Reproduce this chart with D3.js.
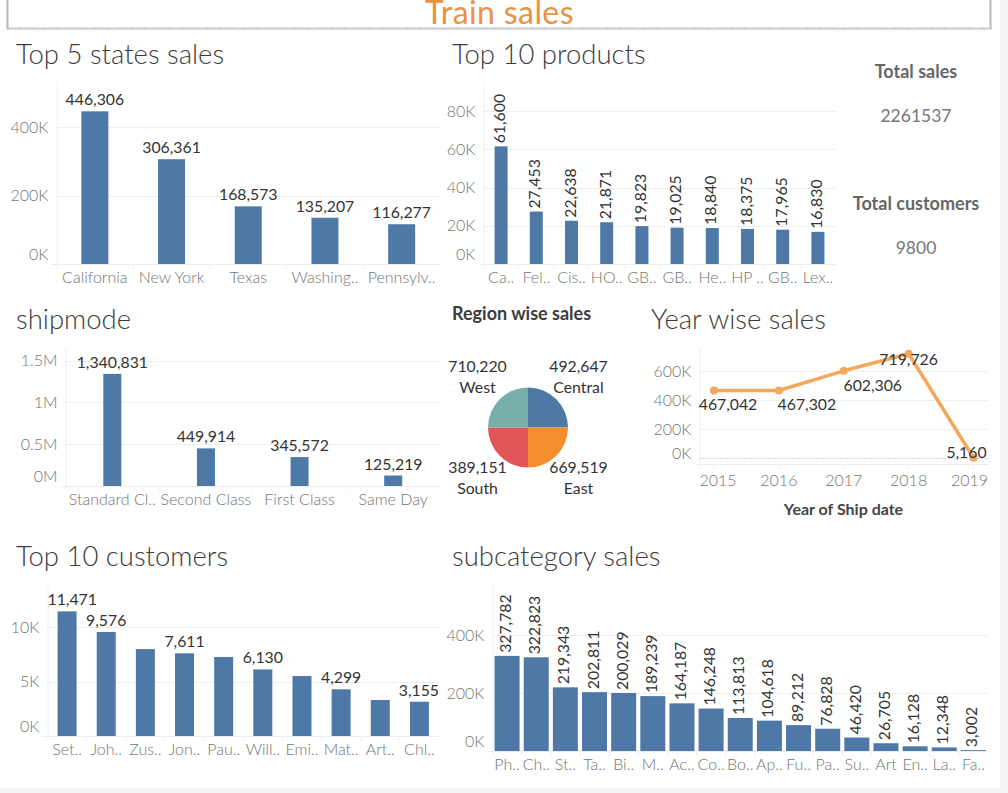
<!DOCTYPE html>
<html>
<head>
<meta charset="utf-8">
<script src="https://cdn.jsdelivr.net/npm/d3@7"></script>
<style>
  body { margin: 0; background: #f4f4f4; overflow: hidden; }
  svg { display: block; font-family: Lato, "Open Sans", sans-serif; }
  .grid line { stroke: #efefef; }
  .tick-label { fill: #747474; font-size: 16px; font-weight: 300; }
  .val { fill: #333; font-size: 15.8px; }
  .title { fill: #3c3c3c; font-size: 27.5px; font-weight: 300; }
</style>
</head>
<body>
<div id="chart"></div>
<script>
// chart values
let stateNames = ["California", "New York", "Texas", "Washing..", "Pennsylv.."];
let stateSales = [446306, 306361, 168573, 135207, 116277];
let stateTicks = [0, 200000, 400000];

let productNames = ["Ca..", "Fel..", "Cis..", "HO..", "GB..", "GB.. ", "He..", "HP ..", "GB..  ", "Lex.."];
let productSales = [61600, 27453, 22638, 21871, 19823, 19025, 18840, 18375, 17965, 16830];
let productTicks = [0, 20000, 40000, 60000, 80000];

let shipNames = ["Standard Cl..", "Second Class", "First Class", "Same Day"];
let shipSales = [1340831, 449914, 345572, 125219];
let shipTicks = [0, 500000, 1000000, 1500000];

let regionNames = ["Central", "East", "South", "West"];
let regionSales = [492647, 669519, 389151, 710220];
let regionSliceSizes = [1, 1, 1, 1];   // the slices are plain quarters in the picture

let years = [2015, 2016, 2017, 2018, 2019];
let yearSales = [467042, 467302, 602306, 719726, 5160];
let yearTicks = [0, 200000, 400000, 600000];

let customerNames = ["Set..", "Joh..", "Zus..", "Jon..", "Pau..", "Will..", "Emi..", "Mat..", "Art..", "Chl.."];
let customerSales = [11471, 9576, 8000, 7611, 7270, 6130, 5520, 4299, 3310, 3155];
let customerShown = [true, true, false, true, false, true, false, true, false, true];
let customerTicks = [0, 5000, 10000];

let subcatNames = ["Ph..", "Ch..", "St..", "Ta..", "Bi..", "M..", "Ac..", "Co..", "Bo..", "Ap..", "Fu..", "Pa..", "Su..", "Art", "En..", "La..", "Fa.."];
let subcatSales = [327782, 322823, 219343, 202811, 200029, 189239, 164187, 146248, 113813, 104618, 89212, 76828, 46420, 26705, 16128, 12348, 3002];
let subcatTicks = [0, 200000, 400000];

let totalSales = 2261537;
let totalCustomers = 9800;

const width = 1008, height = 793;
const barColor = "#4e79a7";
const commas = d3.format(",");
const kFmt = d => (d / 1000) + "K";
const mFmt = d => (d / 1000000) + "M";

let svg = d3.select("#chart").append("svg")
    .attr("width", width)
    .attr("height", height);

// white dashboard sheet, grey strips stay at the right and the bottom
svg.append("rect").attr("width", 1000).attr("height", 788).attr("fill", "#fff");

// banner box, its top is cut off by the window
svg.append("path")
    .attr("d", "M7.5,0V28.5H990.5V0")
    .attr("fill", "none")
    .attr("stroke", "#b4b8c2")
    .attr("stroke-width", 2);
svg.append("line")
    .attr("x1", 8).attr("x2", 990).attr("y1", 28).attr("y2", 28)
    .attr("stroke", "#e8e8ea").attr("stroke-width", 1)
    .attr("stroke-dasharray", "11 1.5");
svg.append("text")
    .attr("x", 499.5).attr("y", 24)
    .attr("text-anchor", "middle")
    .attr("fill", "#ea9244")
    .style("font-size", "32px")
    .style("letter-spacing", "0.4px")
    .text("Train sales");

function addTitle(label, x, y) {
    svg.append("text").attr("class", "title").attr("x", x).attr("y", y).text(label);
}

// keeps a centred text inside the pane, tableau nudges the labels the same way
function clampX(sel, left, right) {
    sel.each(function() {
        let w = this.getComputedTextLength();
        let x = +d3.select(this).attr("x");
        x = Math.max(left + w / 2, Math.min(right - w / 2, x));
        d3.select(this).attr("x", x);
    });
}

function drawFrame(g, c, y) {
    // gridlines
    g.append("g").attr("class", "grid")
        .selectAll("line").data(c.ticks.filter(t => t != 0)).join("line")
        .attr("x1", c.x0).attr("x2", c.x1)
        .attr("y1", d => Math.round(y(d)) + 0.5).attr("y2", d => Math.round(y(d)) + 0.5);

    // pane edge and base line
    g.append("line")
        .attr("x1", c.x0 + 0.5).attr("x2", c.x0 + 0.5)
        .attr("y1", c.top).attr("y2", c.bottom + 5)
        .attr("stroke", "#f0f0f0");
    g.append("line")
        .attr("x1", c.x0 - 5).attr("x2", c.x1)
        .attr("y1", c.bottom + 0.5).attr("y2", c.bottom + 0.5)
        .attr("stroke", "#ececec");

    // value axis
    let yAxis = g.append("g")
        .attr("transform", "translate(" + c.x0 + ",0)")
        .call(d3.axisLeft(y).tickValues(c.ticks).tickFormat(c.fmt).tickSize(0).tickPadding(8))
        .attr("font-family", null)
        .attr("font-size", null);
    yAxis.select(".domain").remove();
    // the zero label sits above the base line, not on it
    let zeroShift = c.zeroShift == null ? 10 : c.zeroShift;
    yAxis.selectAll("text").attr("class", "tick-label")
        .attr("dy", d => d == 0 ? (5 - zeroShift) + "px" : "0.32em");
}

function barChart(c) {
    let g = svg.append("g");

    let x = d3.scaleBand()
        .domain(c.names)
        .range([c.x0, c.x1]);

    let y = d3.scaleLinear()
        .domain(c.domain)
        .range([c.bottom, c.top]);

    drawFrame(g, c, y);

    // separators between the categories
    g.append("g").selectAll("line").data(c.names.slice(1)).join("line")
        .attr("x1", d => x(d)).attr("x2", d => x(d))
        .attr("y1", c.bottom).attr("y2", c.bottom + 5)
        .attr("stroke", "#f0f0f0");

    let xAxis = g.append("g")
        .attr("transform", "translate(0," + c.bottom + ")")
        .call(d3.axisBottom(x).tickSize(0).tickPadding(8))
        .attr("font-family", null)
        .attr("font-size", null);
    xAxis.select(".domain").remove();
    xAxis.selectAll("text").attr("class", "tick-label");

    let rows = c.names.map((n, i) => ({ name: n, value: c.values[i], shown: c.shown ? c.shown[i] : true }));

    g.selectAll("rect.bar").data(rows).join("rect")
        .attr("class", "bar")
        .attr("x", d => x(d.name) + (x.bandwidth() - c.barWidth) / 2)
        .attr("y", d => y(d.value))
        .attr("width", c.barWidth)
        .attr("height", d => c.bottom - y(d.value))
        .attr("fill", barColor);

    let labels = g.selectAll("text.val").data(rows.filter(d => d.shown)).join("text")
        .attr("class", "val")
        .text(d => commas(d.value));

    if (c.rotated) {
        labels
            .attr("text-anchor", "start")
            .attr("dominant-baseline", "middle")
            .attr("transform", d => "translate(" + (x(d.name) + x.bandwidth() / 2) + "," + (y(d.value) - 3) + ") rotate(-90)");
    } else {
        labels
            .attr("text-anchor", "middle")
            .attr("x", d => x(d.name) + x.bandwidth() / 2)
            .attr("y", d => y(d.value) - 6)
            .call(clampX, c.x0, c.x1);
    }
}

addTitle("Top 5 states sales", 16, 64);
barChart({ names: stateNames, values: stateSales, ticks: stateTicks, fmt: kFmt,
    domain: [0, 535000], x0: 56.5, x1: 440, top: 81, bottom: 264, barWidth: 27 });

addTitle("Top 10 products", 452, 64);
barChart({ names: productNames, values: productSales, ticks: productTicks, fmt: kFmt,
    domain: [0, 95300], x0: 483.5, x1: 835.5, top: 82, bottom: 264, barWidth: 13, rotated: true });

addTitle("shipmode", 16, 329);
barChart({ names: shipNames, values: shipSales, ticks: shipTicks, fmt: mFmt,
    domain: [0, 1650000], x0: 65.5, x1: 440, top: 348, bottom: 486, barWidth: 18 });

addTitle("Top 10 customers", 16, 566);
barChart({ names: customerNames, values: customerSales, shown: customerShown, ticks: customerTicks, fmt: kFmt,
    domain: [0, 13900], x0: 47.5, x1: 439, top: 585, bottom: 736, barWidth: 19 });

addTitle("subcategory sales", 452, 566);
barChart({ names: subcatNames, values: subcatSales, ticks: subcatTicks, fmt: kFmt,
    domain: [0, 572000], x0: 492.5, x1: 988, top: 585, bottom: 751, barWidth: 25, rotated: true });

// totals on the right of the products chart
function addTotal(label, value, y) {
    svg.append("text")
        .attr("x", 916).attr("y", y).attr("text-anchor", "middle").attr("dominant-baseline", "middle")
        .attr("fill", "#666").style("font-size", "18px").style("font-weight", 700)
        .text(label);
    svg.append("text")
        .attr("x", 916).attr("y", y + 44).attr("text-anchor", "middle").attr("dominant-baseline", "middle")
        .attr("fill", "#777").style("font-size", "17.5px")
        .text(value);
}
addTotal("Total sales", totalSales, 73.5);
addTotal("Total customers", totalCustomers, 205.5);

// region pie
svg.append("text")
    .attr("x", 452).attr("y", 320)
    .attr("fill", "#3c3c3c")
    .style("font-size", "18px").style("font-weight", 700)
    .text("Region wise sales");

let pieColors = d3.scaleOrdinal().domain(regionNames).range(["#4e79a7", "#f28e2b", "#e15759", "#76b0a9"]);
let pieData = d3.pie().sort(null)(regionSliceSizes);
let arc = d3.arc().innerRadius(0).outerRadius(40);
let pieG = svg.append("g").attr("transform", "translate(528,427.5)");

pieG.selectAll("path").data(pieData).join("path")
    .attr("d", arc)
    .attr("fill", (d, i) => pieColors(regionNames[i]));

pieData.forEach(function(d, i) {
    let c = arc.centroid(d);
    let px = c[0] > 0 ? 50.5 : -50.5;
    let py = c[1] > 0 ? 41.5 : -59.5;
    pieG.append("text").attr("class", "val")
        .attr("x", px).attr("y", py).attr("text-anchor", "middle").attr("dominant-baseline", "middle")
        .text(commas(regionSales[i]));
    pieG.append("text").attr("class", "val")
        .attr("x", px).attr("y", py + 21).attr("text-anchor", "middle").attr("dominant-baseline", "middle")
        .text(regionNames[i]);
});

// year line
addTitle("Year wise sales", 651, 329);

let yearChart = { x0: 699.5, x1: 988, top: 348, bottom: 464, ticks: yearTicks, fmt: kFmt, zeroShift: 5 };
let yearG = svg.append("g");
let yearX = d3.scalePoint()
    .domain(years)
    .range([714, 973.5]);
let yearY = d3.scaleLinear()
    .domain([-38000, 759000])
    .range([yearChart.bottom, yearChart.top]);

drawFrame(yearG, yearChart, yearY);

// dotted zero line
yearG.append("line")
    .attr("x1", yearChart.x0).attr("x2", yearChart.x1)
    .attr("y1", yearY(0)).attr("y2", yearY(0))
    .attr("stroke", "#aaa").attr("stroke-dasharray", "1 2");

// year separators
yearG.append("g").selectAll("line").data(years).join("line")
    .attr("x1", d => yearX(d)).attr("x2", d => yearX(d))
    .attr("y1", yearChart.bottom).attr("y2", yearChart.bottom + 5)
    .attr("stroke", "#f0f0f0");

let yearAxis = yearG.append("g")
    .attr("transform", "translate(0," + yearChart.bottom + ")")
    .call(d3.axisBottom(yearX).tickFormat(d3.format("d")).tickSize(0).tickPadding(11))
    .attr("font-family", null)
    .attr("font-size", null);
yearAxis.select(".domain").remove();
yearAxis.selectAll("text").attr("class", "tick-label");
yearAxis.selectAll(".tick").each(function(d) {
    // first and last labels get pushed back inside the pane
    let w = d3.select(this).select("text").node().getComputedTextLength();
    let cx = Math.max(yearChart.x0 + w / 2, Math.min(yearChart.x1 - w / 2, yearX(d)));
    d3.select(this).attr("transform", "translate(" + cx + ",0)");
});

let line = d3.line()
    .x((d, i) => yearX(years[i]))
    .y(d => yearY(d));

yearG.append("path")
    .attr("d", line(yearSales))
    .attr("fill", "none")
    .attr("stroke", "#f5a85c")
    .attr("stroke-width", 3.5)
    .attr("stroke-linejoin", "round");

yearG.selectAll("circle").data(yearSales).join("circle")
    .attr("cx", (d, i) => yearX(years[i]))
    .attr("cy", d => yearY(d))
    .attr("r", 4)
    .attr("fill", "#f5a85c");

// label nudges, tableau moves them off the line
const yearLabelDx = [14, 28, 29, 0, -7];
const yearLabelDy = [16, 16, 16, 7, -4];

yearG.selectAll("text.val").data(yearSales).join("text")
    .attr("class", "val")
    .attr("x", (d, i) => yearX(years[i]) + yearLabelDx[i])
    .attr("y", (d, i) => yearY(d) + yearLabelDy[i])
    .attr("text-anchor", "middle")
    .attr("dominant-baseline", "middle")
    .text(d => commas(d));

svg.append("text")
    .attr("x", 843.5).attr("y", 511)
    .attr("text-anchor", "middle").attr("dominant-baseline", "middle")
    .attr("fill", "#444")
    .style("font-size", "16px").style("font-weight", 700)
    .text("Year of Ship date");
</script>
</body>
</html>
